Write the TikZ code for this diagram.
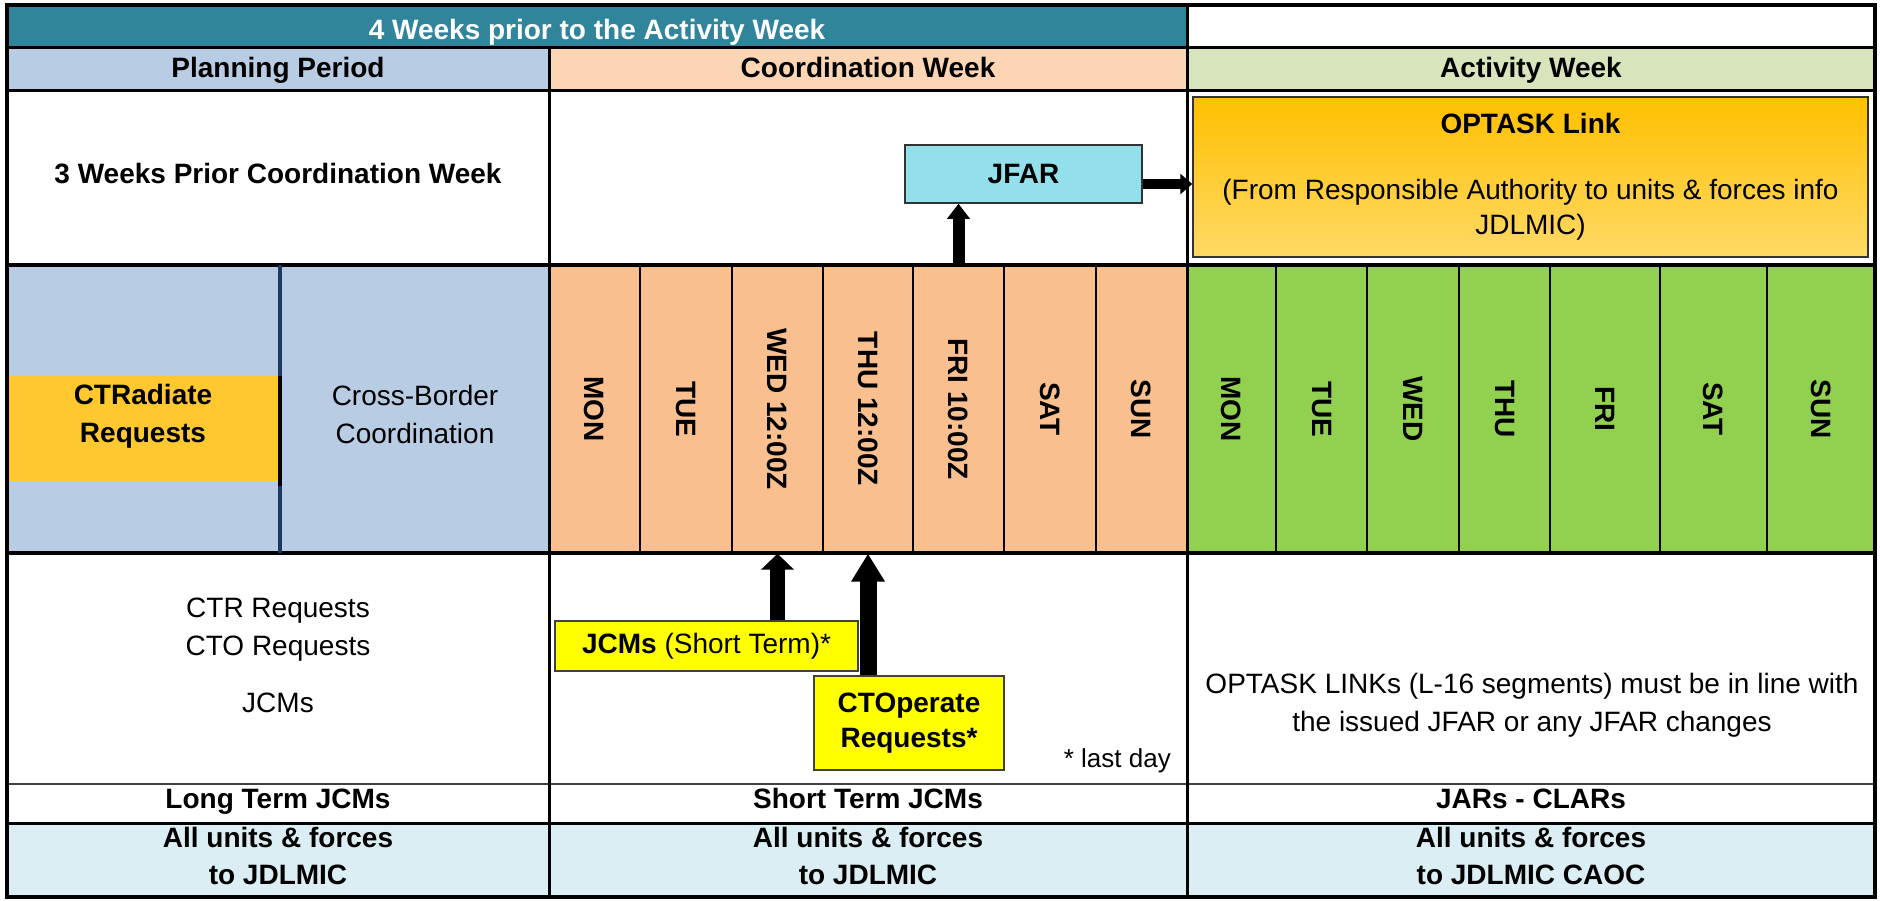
\documentclass[tikz,border=0pt]{standalone}
\usepackage{fontspec}
\setmainfont{Liberation Sans}
\usetikzlibrary{positioning,arrows.meta}

\definecolor{bandteal}{HTML}{31859B}
\definecolor{planblue}{HTML}{B8CCE4}
\definecolor{coordhead}{HTML}{FCD5B4}
\definecolor{coordday}{HTML}{FABF8F}
\definecolor{acthead}{HTML}{D7E4BC}
\definecolor{actday}{HTML}{92D050}
\definecolor{radyellow}{HTML}{FFC82E}
\definecolor{jfarcyan}{HTML}{93DFEB}
\definecolor{boxyellow}{HTML}{FFFF00}
\definecolor{footblue}{HTML}{DAEEF3}
\definecolor{optasktop}{HTML}{FFC000}
\definecolor{optaskbot}{HTML}{FFD966}
\definecolor{divnavy}{HTML}{1F3A60}

\begin{document}
\begin{tikzpicture}[
    x=1pt, y=-1pt,
    txt/.style={inner sep=0pt, align=center, font=\fontsize{28}{38}\selectfont},
    hdr/.style={txt, font=\fontsize{28}{38}\selectfont\bfseries},
    cday/.style={draw=black, line width=1.3pt, fill=coordday, minimum height=288pt, inner sep=0pt},
    aday/.style={cday, fill=actday},
    daytxt/.style={hdr, rotate=-90},
    notebox/.style={draw=black!75, line width=1.5pt, fill=boxyellow, inner sep=0pt, align=center, font=\fontsize{28}{35}\selectfont},
    bigarrow/.style={-{Triangle[length=16pt,width=32pt]}, line width=15pt}
    ]
    \useasboundingbox (0,0) rectangle (1880,900);

    %Bands
    \fill[bandteal] (7,5) rectangle (1187,47);
    \fill[planblue] (7,47) rectangle (549,90);
    \fill[coordhead] (549,47) rectangle (1187,90);
    \fill[acthead] (1187,47) rectangle (1875,90);
    \fill[planblue] (7,265) rectangle (549,553);
    \fill[radyellow] (9,376) rectangle (278,481);
    \fill[footblue] (7,823) rectangle (1875,897);

    %Days
    \foreach \name/\xa/\xb/\txt in {cmon/549/640/MON, ctue/640/732/TUE, cwed/732/823/WED 12:00Z, cthu/823/913/THU 12:00Z, cfri/913/1004/FRI 10:00Z, csat/1004/1096/SAT, csun/1096/1187/SUN}{
        \node[cday, minimum width=\xb-\xa] (\name) at ({(\xa+\xb)/2},409) {};
        \node[daytxt] (\name-txt) at (\name) {\txt};
    }
    \foreach \name/\xa/\xb/\txt in {amon/1187/1276/MON, atue/1276/1367/TUE, awed/1367/1459/WED, athu/1459/1550/THU, afri/1550/1660/FRI, asat/1660/1767/SAT, asun/1767/1875/SUN}{
        \node[aday, minimum width=\xb-\xa] (\name) at ({(\xa+\xb)/2},409) {};
        \node[daytxt] (\name-txt) at (\name) {\txt};
    }

    %Grid
    \draw[line width=3pt] (7,47) -- (1875,47);
    \draw[line width=3pt] (7,90) -- (1875,90);
    \draw[line width=4pt] (7,265) -- (1875,265);
    \draw[line width=4pt] (7,553) -- (1875,553);
    \draw[line width=1.8pt, black!75] (7,784) -- (1875,784);
    \draw[line width=3pt] (7,823) -- (1875,823);
    \draw[line width=3pt] (549,47) -- (549,897);
    \draw[line width=3pt] (1187,5) -- (1187,897);
    \draw[divnavy, line width=4pt] (280,265) -- (280,553);
    \draw[line width=4pt] (280,376) -- (280,486);
    \draw[line width=4pt] (7,5) rectangle (1875,897);

    %Headers
    \node[hdr, text=white, anchor=base] (title) at (597,39.5) {4 Weeks prior to the Activity Week};
    \node[hdr, anchor=base] (planhead) at (278,77.5) {Planning Period};
    \node[hdr, anchor=base] (coordhead) at (868,77.5) {Coordination Week};
    \node[hdr, anchor=base] (acthead) at (1531,77.5) {Activity Week};
    \node[hdr, anchor=base] (prior) at (278,183) {3 Weeks Prior Coordination Week};

    %Boxes
    \node[hdr, draw=black!80, line width=1.5pt, fill=jfarcyan, minimum width=237pt, minimum height=58pt]
        (jfar) at (1023.5,174) {JFAR};
    \node[txt, draw=black!80, line width=1.5pt, top color=optasktop, bottom color=optaskbot,
        minimum width=675pt, minimum height=160pt, font=\fontsize{28}{35}\selectfont]
        (optask) at (1530.5,177) {\textbf{OPTASK Link}\\[31pt](From Responsible Authority to units \& forces info\\JDLMIC)};
    \node[notebox, minimum width=303pt, minimum height=50pt]
        (jcms) at (706.5,646) {\textbf{JCMs} (Short Term)*};
    \node[notebox, minimum width=190pt, minimum height=94pt, font=\fontsize{28}{35}\selectfont\bfseries]
        (ctop) at (909,723) {CTOperate\\Requests*};

    %Cell texts
    \node[hdr] (ctrad) at (143,416) {CTRadiate\\Requests};
    \node[txt] (xborder) at (415,414) {Cross-Border\\Coordination};
    \node[txt] (ctrreq) at (278,630) {CTR Requests\\CTO Requests};
    \node[txt, anchor=base] (jcmlong) at (278,712) {JCMs};
    \node[txt] (linknote) at (1532,705) {OPTASK LINKs (L-16 segments) must be in line with\\the issued JFAR or any JFAR changes};
    \node[txt, anchor=base east, font=\fontsize{26}{30}\selectfont] (lastday) at (1171,767) {* last day};
    \node[hdr, anchor=base] (longterm) at (278,808) {Long Term JCMs};
    \node[hdr, anchor=base] (shortterm) at (868,808) {Short Term JCMs};
    \node[hdr, anchor=base] (jars) at (1531,808) {JARs - CLARs};
    \node[hdr, font=\fontsize{28}{37}\selectfont\bfseries] (unitsa) at (278,856) {All units \& forces\\to JDLMIC};
    \node[hdr, font=\fontsize{28}{37}\selectfont\bfseries] (unitsb) at (868,856) {All units \& forces\\to JDLMIC};
    \node[hdr, font=\fontsize{28}{37}\selectfont\bfseries] (unitsc) at (1531,856) {All units \& forces\\to JDLMIC CAOC};

    %Arrows
    \coordinate (jfarout) at ([yshift=-10pt]jfar.east);
    \draw[line width=12pt, -{Triangle[length=15pt,width=22pt]}]
        (cfri.north) -- (jfar.south -| cfri);
    \draw[line width=10pt, -{Triangle[length=12pt,width=20pt]}]
        (jfarout) -- (optask.west |- jfarout);
    \draw[bigarrow]
        (jcms.north -| cwed) -- (cwed.south);
    \draw[bigarrow, line width=17pt, -{Triangle[length=28pt,width=32pt]}]
        (ctop.north -| cthu) -- (cthu.south);
\end{tikzpicture}
\end{document}
